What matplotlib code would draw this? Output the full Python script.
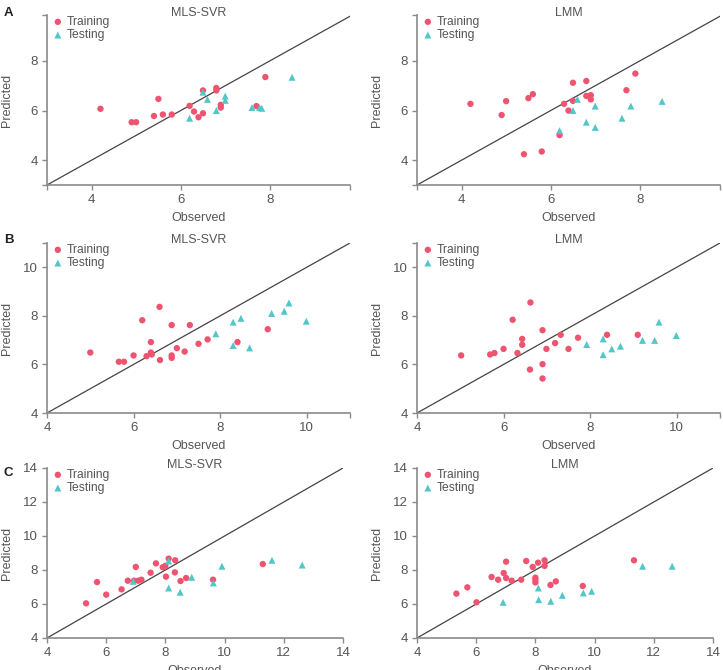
import matplotlib
matplotlib.use("Agg")
import matplotlib.pyplot as plt
import numpy as np

plt.rcParams['font.family'] = ['Liberation Sans', 'DejaVu Sans']

# ---------------- data ----------------
# Panel A
a_train_x = [4.2, 4.9, 5.0, 5.4, 5.5, 5.6, 5.8, 6.2, 6.3, 6.4, 6.5, 6.5, 6.8, 6.8, 6.9, 6.9, 7.7, 7.9]
a_svr_train_y = [6.07, 5.53, 5.53, 5.78, 6.47, 5.84, 5.84, 6.19, 5.96, 5.73, 5.89, 6.81, 6.91, 6.81, 6.23, 6.12, 6.18, 7.35]
a_lmm_train_y = [6.27, 5.82, 6.38, 4.24, 6.50, 6.66, 4.35, 5.01, 6.27, 6.00, 6.39, 7.12, 7.19, 6.59, 6.62, 6.45, 6.82, 7.49]
a_svr_test_x = [6.2, 6.5, 6.6, 6.8, 7.0, 7.0, 7.6, 7.77, 7.82, 8.5]
a_svr_test_y = [5.69, 6.74, 6.45, 6.00, 6.58, 6.41, 6.12, 6.12, 6.09, 7.34]
a_lmm_test_x = [6.2, 6.5, 6.6, 6.8, 7.0, 7.0, 7.6, 7.8, 8.5]
a_lmm_test_y = [5.19, 6.00, 6.45, 5.53, 6.18, 5.32, 5.69, 6.18, 6.37]

# Panel B
b_svr_train_x = [5.0, 5.66, 5.78, 6.0, 6.2, 6.3, 6.4, 6.42, 6.4, 6.6, 6.61, 6.88, 6.88, 6.88, 7.0, 7.18, 7.3, 7.5, 7.71, 8.4, 9.1]
b_svr_train_y = [6.49, 6.11, 6.11, 6.37, 7.82, 6.34, 6.49, 6.41, 6.92, 8.37, 6.18, 7.62, 6.37, 6.27, 6.67, 6.53, 7.62, 6.85, 7.03, 6.92, 7.45]
b_lmm_train_x = [5.02, 5.69, 5.79, 6.0, 6.21, 6.32, 6.43, 6.43, 6.62, 6.61, 6.9, 6.9, 6.9, 6.99, 7.19, 7.32, 7.5, 7.72, 8.39, 9.1]
b_lmm_train_y = [6.37, 6.41, 6.47, 6.64, 7.84, 6.47, 7.05, 6.81, 8.55, 5.79, 7.41, 6.01, 5.42, 6.64, 6.88, 7.22, 6.64, 7.10, 7.22, 7.22]
b_test_x = [7.9, 8.3, 8.3, 8.48, 8.68, 9.19, 9.48, 9.59, 9.99]
b_svr_test_y = [7.26, 6.78, 7.74, 7.90, 6.68, 8.10, 8.19, 8.53, 7.78]
b_lmm_test_x = [7.92, 8.3, 8.3, 8.5, 8.7, 9.21, 9.49, 9.59, 9.99]
b_lmm_test_y = [6.82, 7.05, 6.40, 6.64, 6.75, 6.99, 6.99, 7.74, 7.19]

# Panel C
c_svr_train_x = [5.32, 5.69, 6.0, 6.52, 6.73, 7.0, 6.94, 7.08, 7.19, 7.5, 7.68, 7.91, 8.0, 8.02, 8.11, 8.33, 8.32, 8.51, 8.7, 9.61, 11.29]
c_svr_train_y = [6.04, 7.29, 6.55, 6.86, 7.37, 8.18, 7.37, 7.37, 7.43, 7.84, 8.39, 8.16, 8.25, 7.61, 8.67, 8.57, 7.86, 7.35, 7.53, 7.43, 8.35]
c_lmm_train_x = [5.33, 5.7, 6.01, 6.52, 6.74, 6.93, 7.01, 7.01, 7.2, 7.52, 7.69, 7.91, 8.0, 8.0, 8.0, 8.09, 8.31, 8.31, 8.51, 8.69, 9.6, 11.33]
c_lmm_train_y = [6.61, 6.98, 6.10, 7.59, 7.43, 7.82, 8.49, 7.53, 7.37, 7.43, 8.53, 8.18, 7.55, 7.43, 7.27, 8.43, 8.57, 8.24, 7.12, 7.33, 7.06, 8.57]
c_test_x = [6.91, 8.11, 8.11, 8.5, 8.89, 9.62, 9.91, 11.6, 12.62]
c_svr_test_y = [7.33, 8.53, 6.94, 6.69, 7.57, 7.24, 8.22, 8.57, 8.29]
c_lmm_test_x = [6.91, 8.1, 8.11, 8.52, 8.91, 9.62, 9.9, 11.62, 12.62]
c_lmm_test_y = [6.10, 6.94, 6.25, 6.16, 6.51, 6.65, 6.75, 8.22, 8.22]

titles = ["MLS-SVR", "LMM"]
panel_letters = ["A", "B", "C"]

# ---------------- style ----------------
W, H = 723, 670
PINK = "#EE5470"
TEAL = "#52C6C9"
SPINE = "#8a8a8a"
TXT = "#555555"

fig = plt.figure(figsize=(W / 100, H / 100), dpi=100)

def px_axes(l, r, t, b):
    return fig.add_axes([l / W, 1 - b / H, (r - l) / W, (b - t) / H])

rows = [
    dict(top=15, bottom=185, lims=(3, 9.8), ylims=(3, 9.85), letter_y=13,
         xt=[3, 4, 6, 8, 9.8], xl=['', '4', '6', '8', ''],
         yt=[3, 4, 6, 8, 9.85], yl=['', '4', '6', '8', ''],
         right=(350, 720),
         data=[(a_train_x, a_svr_train_y, a_svr_test_x, a_svr_test_y),
               (a_train_x, a_lmm_train_y, a_lmm_test_x, a_lmm_test_y)]),
    dict(top=243, bottom=413, lims=(4, 11), ylims=(4, 11), letter_y=240,
         xt=[4, 6, 8, 10, 11], xl=['4', '6', '8', '10', ''],
         yt=[4, 6, 8, 10, 11], yl=['4', '6', '8', '10', ''],
         right=(350, 720),
         data=[(b_svr_train_x, b_svr_train_y, b_test_x, b_svr_test_y),
               (b_lmm_train_x, b_lmm_train_y, b_lmm_test_x, b_lmm_test_y)]),
    dict(top=468, bottom=638, lims=(4, 14), ylims=(4, 14), letter_y=473,
         xt=[4, 6, 8, 10, 12, 14], xl=['4', '6', '8', '10', '12', '14'],
         yt=[4, 6, 8, 10, 12, 14], yl=['4', '6', '8', '10', '12', '14'],
         right=(343, 713),
         data=[(c_svr_train_x, c_svr_train_y, c_test_x, c_svr_test_y),
               (c_lmm_train_x, c_lmm_train_y, c_lmm_test_x, c_lmm_test_y)]),
]
lefts = [47, 417]

for ri, row in enumerate(rows):
    for ci in range(2):
        l, r = lefts[ci], row['right'][ci]
        ax = px_axes(l, r, row['top'], row['bottom'])
        wpx, hpx = r - l, row['bottom'] - row['top']
        trx, tr_y, tex, tey = row['data'][ci]
        lo, hi = row['lims']
        ylo, yhi = row['ylims']
        ax.plot([lo, max(hi, yhi)], [lo, max(hi, yhi)], color="#444444", lw=0.9, zorder=1)
        ax.scatter(trx, tr_y, s=21, marker='o', color=PINK, edgecolors='none', zorder=3, label='Training')
        ax.scatter(tex, tey, s=25, marker='^', color=TEAL, edgecolors='none', zorder=3, label='Testing')
        ax.set_xlim(lo, hi)
        ax.set_ylim(ylo, yhi)
        ax.set_xticks(row['xt'])
        ax.set_xticklabels(row['xl'])
        ax.set_yticks(row['yt'])
        ax.set_yticklabels(row['yl'])
        for s in ['top', 'right']:
            ax.spines[s].set_visible(False)
        for s in ['left', 'bottom']:
            ax.spines[s].set_color(SPINE)
            ax.spines[s].set_linewidth(1.2)
        ax.tick_params(direction='out', length=3.5, width=1.0, color=SPINE,
                       labelcolor=TXT, labelsize=9.5, pad=3)
        ax.set_xlabel("Observed", fontsize=9, color=TXT, labelpad=4)
        ax.set_ylabel("Predicted", fontsize=9, color=TXT)
        ax.yaxis.set_label_coords(-34.0 / wpx, 0.5)
        ax.text(0.5, 1 + 2.5 / hpx, titles[ci], transform=ax.transAxes, ha='center', va='center',
                fontsize=9, color=TXT)
        leg = ax.legend(loc='upper left', bbox_to_anchor=(6 / wpx, 1 - 1.0 / hpx), frameon=False,
                        fontsize=8.7, handletextpad=0.35, borderaxespad=0.0, borderpad=0.0,
                        labelspacing=0.1, handlelength=0.8, markerscale=1.0)
        for t in leg.get_texts():
            t.set_color(TXT)
        if ci == 0:
            fig.text(4 / W, 1 - row['letter_y'] / H, panel_letters[ri], fontsize=9.5,
                     fontweight='bold', color="#222222", ha='left', va='center')

fig.savefig("out.png", dpi=100)
